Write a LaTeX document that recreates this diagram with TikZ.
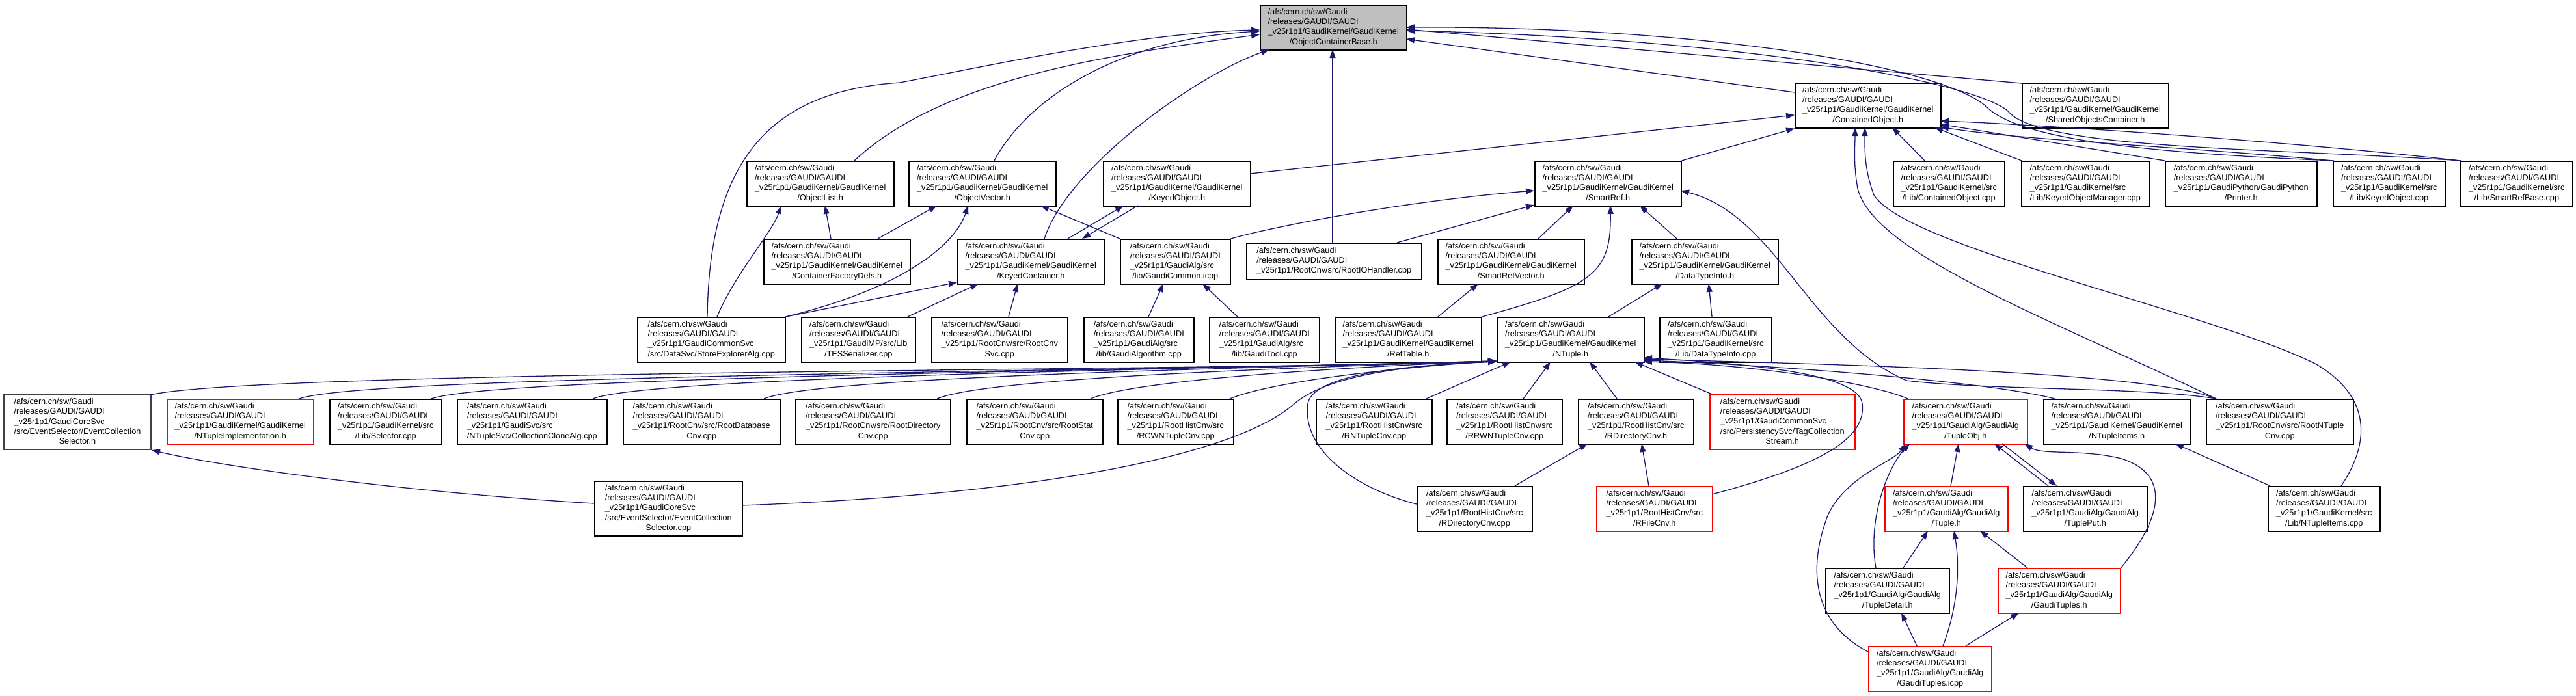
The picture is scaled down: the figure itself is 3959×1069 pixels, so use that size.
\documentclass[tikz,border=0pt]{standalone}
\usepackage{fontspec}
\setmainfont{Liberation Sans}
\usetikzlibrary{arrows.meta}
\definecolor{edgec}{HTML}{191970}
\definecolor{shade}{HTML}{BFBFBF}
\newcommand\ft{\fontsize{12.7}{15.2}\selectfont}
\newcommand\nl[1]{\begin{tabular}{@{}l@{}}#1\end{tabular}}
\newcommand\cc[1]{\multicolumn{1}{@{}c@{}}{#1}}
\newcommand\pre{/afs/cern.ch/sw/Gaudi\\/releases/GAUDI/GAUDI\\}
\newcommand\gkgk{\_v25r1p1/GaudiKernel/GaudiKernel\\}
\newcommand\gksrc{\_v25r1p1/GaudiKernel/src\\}
\newcommand\gaga{\_v25r1p1/GaudiAlg/GaudiAlg\\}
\newcommand\rhc{\_v25r1p1/RootHistCnv/src\\}
\begin{document}
\begin{tikzpicture}[x=1pt,y=-1pt,
  nbox/.style={draw=black,fill=white,line width=1.5pt,inner sep=0pt,anchor=north west,minimum height=69pt,font=\ft,text=black},
  redbox/.style={nbox,draw=red},
  edg/.style={draw=edgec,line width=1.3pt,-{Triangle[length=13pt,width=9pt]}}]
\useasboundingbox (0,0) rectangle (3959,1069);
% ---- nodes
\node[nbox,fill=shade,minimum width=225pt] (OCB) at (1936,7) {\nl{\pre\gkgk\cc{/ObjectContainerBase.h}}};
\node[nbox,minimum width=224pt] (CO) at (2758,127) {\nl{\pre\gkgk\cc{/ContainedObject.h}}};
\node[nbox,minimum width=225pt] (SOC) at (3107,127) {\nl{\pre\gkgk\cc{/SharedObjectsContainer.h}}};
\node[nbox,minimum width=226pt] (OL) at (1147,247) {\nl{\pre\gkgk\cc{/ObjectList.h}}};
\node[nbox,minimum width=226pt] (OV) at (1396,247) {\nl{\pre\gkgk\cc{/ObjectVector.h}}};
\node[nbox,minimum width=226pt] (KO) at (1695,247) {\nl{\pre\gkgk\cc{/KeyedObject.h}}};
\node[nbox,minimum width=225pt] (SR) at (2358,247) {\nl{\pre\gkgk\cc{/SmartRef.h}}};
\node[nbox,minimum width=171pt] (COC) at (2909,247) {\nl{\pre\gksrc\cc{/Lib/ContainedObject.cpp}}};
\node[nbox,minimum width=196pt] (KOM) at (3106,247) {\nl{\pre\gksrc\cc{/Lib/KeyedObjectManager.cpp}}};
\node[nbox,minimum width=233pt] (PR) at (3327,247) {\nl{\pre\_v25r1p1/GaudiPython/GaudiPython\\\cc{/Printer.h}}};
\node[nbox,minimum width=172pt] (KOC) at (3585,247) {\nl{\pre\gksrc\cc{/Lib/KeyedObject.cpp}}};
\node[nbox,minimum width=172pt] (SRB) at (3781,247) {\nl{\pre\gksrc\cc{/Lib/SmartRefBase.cpp}}};
\node[nbox,minimum width=225pt] (CFD) at (1173,367) {\nl{\pre\gkgk\cc{/ContainerFactoryDefs.h}}};
\node[nbox,minimum width=225pt] (KC) at (1471,367) {\nl{\pre\gkgk\cc{/KeyedContainer.h}}};
\node[nbox,minimum width=169pt] (GC) at (1721,367) {\nl{\pre\_v25r1p1/GaudiAlg/src\\\cc{/lib/GaudiCommon.icpp}}};
\node[nbox,minimum width=269pt,minimum height=56pt] (RIO) at (1915,373) {\nl{\pre\cc{\_v25r1p1/RootCnv/src/RootIOHandler.cpp}}};
\node[nbox,minimum width=225pt] (SRV) at (2209,367) {\nl{\pre\gkgk\cc{/SmartRefVector.h}}};
\node[nbox,minimum width=225pt] (DTI) at (2507,367) {\nl{\pre\gkgk\cc{/DataTypeInfo.h}}};
\node[nbox,minimum width=227pt] (SEA) at (979,487) {\nl{\pre\_v25r1p1/GaudiCommonSvc\\\cc{/src/DataSvc/StoreExplorerAlg.cpp}}};
\node[nbox,minimum width=175pt] (TES) at (1231,487) {\nl{\pre\_v25r1p1/GaudiMP/src/Lib\\\cc{/TESSerializer.cpp}}};
\node[nbox,minimum width=209pt] (RCS) at (1431,487) {\nl{\pre\_v25r1p1/RootCnv/src/RootCnv\\\cc{Svc.cpp}}};
\node[nbox,minimum width=169pt] (GA) at (1665,487) {\nl{\pre\_v25r1p1/GaudiAlg/src\\\cc{/lib/GaudiAlgorithm.cpp}}};
\node[nbox,minimum width=169pt] (GT) at (1858,487) {\nl{\pre\_v25r1p1/GaudiAlg/src\\\cc{/lib/GaudiTool.cpp}}};
\node[nbox,minimum width=225pt] (RT) at (2051,487) {\nl{\pre\gkgk\cc{/RefTable.h}}};
\node[nbox,minimum width=226pt] (NT) at (2300,487) {\nl{\pre\gkgk\cc{/NTuple.h}}};
\node[nbox,minimum width=172pt] (DTC) at (2550,487) {\nl{\pre\gksrc\cc{/Lib/DataTypeInfo.cpp}}};
\node[nbox,draw=black!75,line width=2pt,minimum width=226pt,minimum height=84pt] (ECSH) at (5,606) {\nl{\pre\_v25r1p1/GaudiCoreSvc\\/src/EventSelector/EventCollection\\\cc{Selector.h}}};
\node[redbox,minimum width=225pt] (NTI) at (256,613) {\nl{\pre\gkgk\cc{/NTupleImplementation.h}}};
\node[nbox,minimum width=172pt] (SEL) at (506,613) {\nl{\pre\gksrc\cc{/Lib/Selector.cpp}}};
\node[nbox,minimum width=230pt] (CCA) at (702,613) {\nl{\pre\_v25r1p1/GaudiSvc/src\\\cc{/NTupleSvc/CollectionCloneAlg.cpp}}};
\node[nbox,minimum width=241pt] (RDB) at (957,613) {\nl{\pre\_v25r1p1/RootCnv/src/RootDatabase\\\cc{Cnv.cpp}}};
\node[nbox,minimum width=238pt] (RDIR) at (1222,613) {\nl{\pre\_v25r1p1/RootCnv/src/RootDirectory\\\cc{Cnv.cpp}}};
\node[nbox,minimum width=209pt] (RST) at (1485,613) {\nl{\pre\_v25r1p1/RootCnv/src/RootStat\\\cc{Cnv.cpp}}};
\node[nbox,minimum width=178pt] (RCW) at (1717,613) {\nl{\pre\rhc\cc{/RCWNTupleCnv.cpp}}};
\node[nbox,minimum width=178pt] (RNT) at (2022,613) {\nl{\pre\rhc\cc{/RNTupleCnv.cpp}}};
\node[nbox,minimum width=177pt] (RRW) at (2223,613) {\nl{\pre\rhc\cc{/RRWNTupleCnv.cpp}}};
\node[nbox,minimum width=177pt] (RDH) at (2425,613) {\nl{\pre\rhc\cc{/RDirectoryCnv.h}}};
\node[redbox,minimum width=223pt,minimum height=84pt] (TCS) at (2627,606) {\nl{\pre\_v25r1p1/GaudiCommonSvc\\/src/PersistencySvc/TagCollection\\\cc{Stream.h}}};
\node[redbox,minimum width=190pt] (TO) at (2925,613) {\nl{\pre\gaga\cc{/TupleObj.h}}};
\node[nbox,minimum width=225pt] (NIH) at (3140,613) {\nl{\pre\gkgk\cc{/NTupleItems.h}}};
\node[nbox,minimum width=226pt] (RNC) at (3390,613) {\nl{\pre\_v25r1p1/RootCnv/src/RootNTuple\\\cc{Cnv.cpp}}};
\node[nbox,minimum width=227pt,minimum height=84pt] (ECSC) at (913,739) {\nl{\pre\_v25r1p1/GaudiCoreSvc\\/src/EventSelector/EventCollection\\\cc{Selector.cpp}}};
\node[nbox,minimum width=177pt] (RDC) at (2177,747) {\nl{\pre\rhc\cc{/RDirectoryCnv.cpp}}};
\node[redbox,minimum width=178pt] (RFC) at (2453,747) {\nl{\pre\rhc\cc{/RFileCnv.h}}};
\node[redbox,minimum width=189pt] (TU) at (2896,747) {\nl{\pre\gaga\cc{/Tuple.h}}};
\node[nbox,minimum width=190pt] (TP) at (3109,747) {\nl{\pre\gaga\cc{/TuplePut.h}}};
\node[nbox,minimum width=172pt] (NIC) at (3485,747) {\nl{\pre\gksrc\cc{/Lib/NTupleItems.cpp}}};
\node[nbox,minimum width=190pt] (TD) at (2805,873) {\nl{\pre\gaga\cc{/TupleDetail.h}}};
\node[redbox,minimum width=188pt] (GTH) at (3070,873) {\nl{\pre\gaga\cc{/GaudiTuples.h}}};
\node[redbox,minimum width=189pt] (GTI) at (2871,993) {\nl{\pre\gaga\cc{/GaudiTuples.icpp}}};
% ---- edges to ObjectContainerBase.h
\draw[edg] ([shift={(166,0)}]OL.north west) .. controls (1450,120) and (1700,85) .. ([shift={(0,46)}]OCB.north west);
\draw[edg] ([shift={(132,0)}]OV.north west) .. controls (1580,150) and (1720,60) .. ([shift={(0,41)}]OCB.north west);
\draw[edg] ([shift={(108,0)}]SEA.north west) .. controls (1090,250) and (1180,140) .. (1383,127) .. controls (1500,105) and (1750,50) .. ([shift={(0,39)}]OCB.north west);
\draw[edg] ([shift={(134,0)}]KC.north west) .. controls (1640,260) and (1830,120) .. ([shift={(15,69)}]OCB.north west);
\draw[edg] ([shift={(0,15)}]CO.north west) -- ([shift={(225,53)}]OCB.north west);
\draw[edg] ([shift={(133,0)}]RIO.north west) -- ([shift={(112,69)}]OCB.north west);
\draw[edg] ([shift={(0,1)}]SOC.north west) -- ([shift={(225,38)}]OCB.north west);
\draw[edg] ([shift={(2,0)}]KOC.north west) .. controls (3300,235) and (3110,215) .. (3056,167) .. controls (2990,100) and (2600,40) .. ([shift={(225,35)}]OCB.north west);
\draw[edg] ([shift={(2,0)}]SRB.north west) .. controls (3500,228) and (3140,230) .. (3088,173) .. controls (3050,130) and (2700,60) .. ([shift={(225,40)}]OCB.north west);
% ---- edges to ContainedObject.h
\draw[edg] (SR.north east) -- (CO.south west);
\draw[edg] ([shift={(226,20)}]KO.north west) -- ([shift={(0,50)}]CO.north west);
\draw[edg] ([shift={(49,0)}]COC.north west) -- ([shift={(150,69)}]CO.north west);
\draw[edg] ([shift={(1,0)}]KOM.north west) -- ([shift={(215,69)}]CO.north west);
\draw[edg] (PR.north west) -- ([shift={(224,64)}]CO.north west);
\draw[edg] (KOC.north west) .. controls (3350,225) and (3100,215) .. ([shift={(224,68)}]CO.north west);
\draw[edg] (SRB.north west) .. controls (3500,215) and (3100,190) .. ([shift={(224,59)}]CO.north west);
\draw[edg] ([shift={(16,0)}]RNC.north west) .. controls (3150,490) and (2880,390) .. (2855,290) .. controls (2848,250) and (2851,225) .. ([shift={(93,69)}]CO.north west);
\draw[edg] ([shift={(113,0)}]NIC.north west) .. controls (3630,700) and (3660,620) .. (3560,560) .. controls (3400,480) and (2930,380) .. (2880,300) .. controls (2865,260) and (2866,230) .. ([shift={(108,69)}]CO.north west);
% ---- edges to SmartRef.h
\draw[edg] (GC.north east) .. controls (1950,350) and (2150,310) .. ([shift={(0,46)}]SR.north west);
\draw[edg] ([shift={(232,0)}]RIO.north west) -- ([shift={(0,68)}]SR.north west);
\draw[edg] ([shift={(155,0)}]SRV.north west) -- ([shift={(60,69)}]SR.north west);
\draw[edg] (RT.north east) .. controls (2450,440) and (2476,420) .. ([shift={(117,69)}]SR.north west);
\draw[edg] ([shift={(70,0)}]DTI.north west) -- ([shift={(162,69)}]SR.north west);
\draw[edg] ([shift={(16,0)}]RNC.north west) .. controls (3300,595) and (3050,600) .. (2930,585) .. controls (2780,520) and (2730,330) .. ([shift={(225,46)}]SR.north west);
% ---- edges to NTuple.h
\draw[edg] ([shift={(170,0)}]RNT.north west) -- ([shift={(22,69)}]NT.north west);
\draw[edg] ([shift={(118,0)}]RRW.north west) -- ([shift={(83,69)}]NT.north west);
\draw[edg] ([shift={(60,0)}]RDH.north west) -- ([shift={(143,69)}]NT.north west);
\draw[edg] ([shift={(4,0)}]TCS.north west) -- ([shift={(212,69)}]NT.north west);
\draw[edg] ([shift={(7,0)}]TO.north west) .. controls (2880,590) and (2700,560) .. ([shift={(226,69)}]NT.north west);
\draw[edg] ([shift={(18,0)}]NIH.north west) .. controls (3050,585) and (2700,560) .. ([shift={(226,67)}]NT.north west);
\draw[edg] ([shift={(16,0)}]RNC.north west) .. controls (3300,570) and (2800,560) .. ([shift={(226,65)}]NT.north west);
\draw[edg] ([shift={(178,13)}]RFC.north west) .. controls (2780,720) and (2870,680) .. (2862,620) .. controls (2855,575) and (2700,560) .. ([shift={(226,63)}]NT.north west);
\draw[edg] ([shift={(226,1)}]ECSH.north west) .. controls (400,570) and (1800,570) .. ([shift={(0,69)}]NT.north west);
\draw[edg] ([shift={(204,0)}]NTI.north west) .. controls (560,576) and (1800,570) .. ([shift={(0,68)}]NT.north west);
\draw[edg] ([shift={(157,0)}]SEL.north west) .. controls (760,578) and (1850,568) .. ([shift={(0,68)}]NT.north west);
\draw[edg] ([shift={(209,0)}]CCA.north west) .. controls (1000,578) and (1900,566) .. ([shift={(0,68)}]NT.north west);
\draw[edg] ([shift={(217,0)}]RDB.north west) .. controls (1260,578) and (1950,565) .. ([shift={(0,68)}]NT.north west);
\draw[edg] ([shift={(218,0)}]RDIR.north west) .. controls (1520,580) and (2000,565) .. ([shift={(0,68)}]NT.north west);
\draw[edg] ([shift={(191,0)}]RST.north west) .. controls (1750,582) and (2100,563) .. ([shift={(0,68)}]NT.north west);
\draw[edg] ([shift={(173,0)}]RCW.north west) .. controls (1960,585) and (2150,565) .. ([shift={(0,68)}]NT.north west);
\draw[edg] ([shift={(227,38)}]ECSC.north west) .. controls (1600,760) and (1900,700) .. (1990,620) .. controls (2050,570) and (2200,560) .. ([shift={(0,69)}]NT.north west);
\draw[edg] ([shift={(0,28)}]RDC.north west) .. controls (2080,750) and (2000,690) .. (2010,620) .. controls (2020,570) and (2200,560) .. ([shift={(0,69)}]NT.north west);
% ---- other edges
\draw[edg] ([shift={(151,0)}]RDC.north west) -- ([shift={(15,69)}]RDH.north west);
\draw[edg] ([shift={(81,0)}]RFC.north west) -- ([shift={(98,69)}]RDH.north west);
\draw[edg] ([shift={(172,0)}]NT.north west) -- ([shift={(48,69)}]DTI.north west);
\draw[edg] ([shift={(81,0)}]DTC.north west) -- ([shift={(119,69)}]DTI.north west);
\draw[edg] ([shift={(159,0)}]RT.north west) -- ([shift={(63,69)}]SRV.north west);
\draw[edg] ([shift={(100,0)}]GA.north west) -- ([shift={(67,69)}]GC.north west);
\draw[edg] ([shift={(44,0)}]GT.north west) -- ([shift={(127,69)}]GC.north west);
\draw[edg] (SEA.north east) -- ([shift={(0,67)}]KC.north west);
\draw[edg] ([shift={(164,0)}]TES.north west) -- ([shift={(33,69)}]KC.north west);
\draw[edg] ([shift={(119,0)}]RCS.north west) -- ([shift={(93,69)}]KC.north west);
\draw[edg] ([shift={(54,69)}]KO.north west) -- ([shift={(192,0)}]KC.north west);
\draw[edg] ([shift={(170,0)}]KC.north west) -- ([shift={(32,69)}]KO.north west);
\draw[edg] (SEA.north east) .. controls (1400,440) and (1470,370) .. ([shift={(92,69)}]OV.north west);
\draw[edg] ([shift={(123,0)}]SEA.north west) .. controls (1130,420) and (1185,360) .. ([shift={(54,69)}]OL.north west);
\draw[edg] ([shift={(104,0)}]CFD.north west) -- ([shift={(121,69)}]OL.north west);
\draw[edg] ([shift={(176,0)}]CFD.north west) -- ([shift={(44,69)}]OV.north west);
\draw[edg] (GC.north west) -- ([shift={(203,69)}]OV.north west);
\draw[edg] ([shift={(102,0)}]TU.north west) -- ([shift={(85,69)}]TO.north west);
\draw[edg] ([shift={(39,0)}]TP.north west) -- ([shift={(140,69)}]TO.north west);
\draw[edg] ([shift={(152,69)}]TO.north west) -- ([shift={(52,0)}]TP.north west);
\draw[edg] (GTH.north east) .. controls (3320,800) and (3340,730) .. (3260,705) .. controls (3200,690) and (3140,700) .. ([shift={(186,69)}]TO.north west);
\draw[edg] ([shift={(78,0)}]TD.north west) .. controls (2870,800) and (2900,720) .. ([shift={(10,69)}]TO.north west);
\draw[edg] ([shift={(0,9)}]GTI.north west) .. controls (2790,960) and (2775,880) .. (2810,790) .. controls (2840,730) and (2910,710) .. ([shift={(4,69)}]TO.north west);
\draw[edg] ([shift={(120,0)}]TD.north west) -- ([shift={(67,69)}]TU.north west);
\draw[edg] ([shift={(115,0)}]GTI.north west) .. controls (3010,930) and (3012,870) .. ([shift={(107,69)}]TU.north west);
\draw[edg] ([shift={(46,0)}]GTH.north west) -- ([shift={(147,69)}]TU.north west);
\draw[edg] ([shift={(150,0)}]GTI.north west) -- ([shift={(33,69)}]GTH.north west);
\draw[edg] ([shift={(75,0)}]GTI.north west) -- ([shift={(117,69)}]TD.north west);
\draw[edg] ([shift={(4,0)}]NIC.north west) -- ([shift={(203,69)}]NIH.north west);
\draw[edg] ([shift={(0,35)}]ECSC.north west) .. controls (600,755) and (330,715) .. (ECSH.south east);
\end{tikzpicture}
\end{document}
